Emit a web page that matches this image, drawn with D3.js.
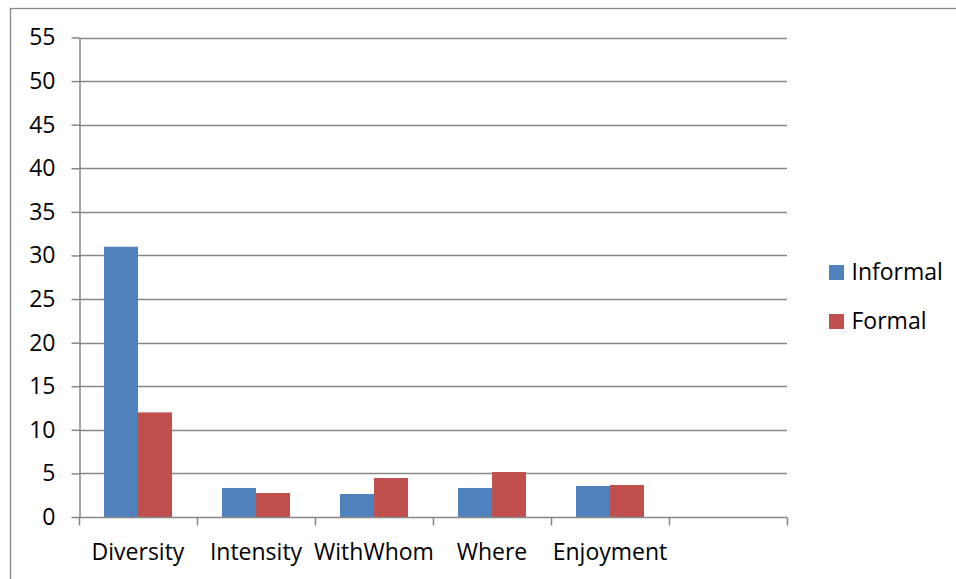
<!DOCTYPE html>
<html>
<head>
<meta charset="utf-8">
<script src="https://cdn.jsdelivr.net/npm/d3@7"></script>
<style>
  html, body { margin: 0; padding: 0; background: #fff; }
  svg { display: block; }
  text { font-family: "Open Sans", "Lato", sans-serif; fill: #000; }
</style>
</head>
<body>
<div id="chart"></div>
<script>
// Category labels along the bottom (the last slot is an empty category)
const categories = ["Diversity", "Intensity", "WithWhom", "Where", "Enjoyment", ""];
// Series names and colours
const seriesNames = ["Informal", "Formal"];
const seriesColors = ["#4F81BD", "#C0504D"];
// Series values, one per category
const informalValues = [31, 3.33, 2.64, 3.33, 3.56, null];
const formalValues = [12, 2.75, 4.47, 5.16, 3.67, null];
// Value-axis ticks
const yTicks = [0, 5, 10, 15, 20, 25, 30, 35, 40, 45, 50, 55];

const W = 956, H = 579;
const plot = { left: 79, right: 787, top: 37.5, bottom: 517 };
const fontSize = 23;
const fontFamily = "Open Sans";
const gridColor = "#878787";

const svg = d3.select("#chart").append("svg")
  .attr("width", W).attr("height", H);

// Chart-area border (runs off the right and bottom edges)
svg.append("rect")
  .attr("x", 10.5).attr("y", 8.5)
  .attr("width", W + 20).attr("height", H + 20)
  .attr("fill", "none").attr("stroke", "#868686").attr("stroke-width", 1.3);

const x0 = d3.scaleBand().domain(d3.range(categories.length))
  .range([plot.left, plot.right]).padding(0);
const x1 = d3.scaleBand().domain(seriesNames)
  .range([0, x0.bandwidth()]).paddingInner(0).paddingOuter(0.735);
const y = d3.scaleLinear().domain([0, 55]).range([plot.bottom, plot.top]);

// Horizontal gridlines
svg.append("g").selectAll("line").data(yTicks.filter(d => d > 0)).join("line")
  .attr("x1", plot.left).attr("x2", plot.right)
  .attr("y1", d => Math.round(y(d)) + 0.5).attr("y2", d => Math.round(y(d)) + 0.5)
  .attr("stroke", gridColor).attr("stroke-width", 1.5);

// Bars
const table = categories.map((c, i) => ({
  i, values: [informalValues[i], formalValues[i]]
}));
const groups = svg.append("g").selectAll("g").data(table).join("g")
  .attr("transform", d => `translate(${x0(d.i)},0)`);
groups.selectAll("rect")
  .data(d => d.values.map((v, k) => ({ v, k })).filter(e => e.v != null))
  .join("rect")
  .attr("x", e => x1(seriesNames[e.k]))
  .attr("width", x1.bandwidth())
  .attr("y", e => y(e.v))
  .attr("height", e => y(0) - y(e.v))
  .attr("fill", e => seriesColors[e.k]);

// Value axis
const yAxis = svg.append("g")
  .attr("transform", `translate(${plot.left + 0.5},0)`)
  .call(d3.axisLeft(y).tickValues(yTicks).tickSize(8).tickPadding(16).tickSizeOuter(0));
yAxis.select(".domain").attr("stroke", gridColor).attr("stroke-width", 1.5);
yAxis.selectAll(".tick line").attr("stroke", gridColor).attr("stroke-width", 1.5);
yAxis.selectAll("text").style("font-size", fontSize + "px").attr("fill", "#000")
  .style("font-family", fontFamily);

// Category axis
const xAxis = svg.append("g")
  .attr("transform", `translate(0,${plot.bottom + 0.5})`);
xAxis.append("line")
  .attr("x1", plot.left).attr("x2", plot.right)
  .attr("stroke", gridColor).attr("stroke-width", 1.5);
xAxis.selectAll("line.tk").data(d3.range(categories.length + 1)).join("line")
  .attr("class", "tk")
  .attr("x1", i => (i < categories.length ? x0(i) : plot.right) + 0.5)
  .attr("x2", i => (i < categories.length ? x0(i) : plot.right) + 0.5)
  .attr("y1", 0).attr("y2", 8)
  .attr("stroke", gridColor).attr("stroke-width", 1.5);
xAxis.selectAll("text").data(categories).join("text")
  .attr("x", (d, i) => x0(i) + x0.bandwidth() / 2)
  .attr("y", 42)
  .attr("text-anchor", "middle")
  .style("font-size", fontSize + "px")
  .text(d => d);

// Legend
const legend = svg.append("g").selectAll("g").data(seriesNames).join("g")
  .attr("transform", (d, i) => `translate(829,${265 + i * 49})`);
legend.append("rect").attr("width", 15).attr("height", 15)
  .attr("fill", (d, i) => seriesColors[i]);
legend.append("text").attr("x", 22.5).attr("y", 15)
  .style("font-size", fontSize + "px").text(d => d);
</script>
</body>
</html>
